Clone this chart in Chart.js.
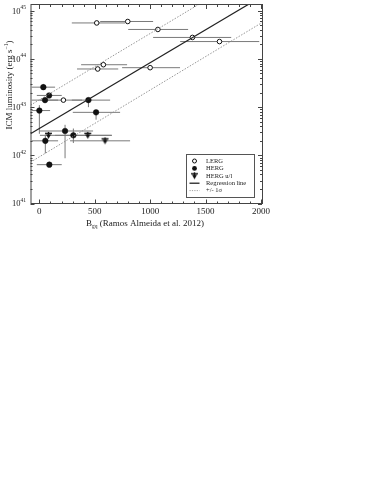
<!DOCTYPE html>
<html>
<head>
<meta charset="utf-8">
<script src="https://cdn.jsdelivr.net/npm/chart.js@4/dist/chart.umd.min.js"></script>
<style>
  body { margin: 0; background: #fff; }
  #wrap { width: 382px; height: 494px; }
</style>
</head>
<body>
<div id="wrap"><canvas id="chart" width="382" height="494"></canvas></div>
<script>
// LERG (open circles)
const lergB   = [518, 798, 1070, 1382, 1626, 578, 527, 1000, 217];
const lergL   = [5.6e44, 6.0e44, 4.1e44, 2.8e44, 2.3e44, 7.6e43, 6.2e43, 6.6e43, 1.4e43];
const lergBLo = [293, 549, 802, 1027, 1271, 377, 340, 747, 6];
const lergBHi = [774, 1027, 1343, 1732, 1985, 792, 712, 1270, 386];

// HERG (filled circles)
const hergB   = [36, 88, 51, 443, 0, 512, 232, 307, 54, 90];
const hergL   = [2.6e43, 1.75e43, 1.4e43, 1.4e43, 8.5e42, 7.8e42, 3.2e42, 2.6e42, 2.0e42, 6.4e41];
const hergBLo = [-69, -23, -69, 293, -69, 302, 6, 142, -69, -23];
const hergBHi = [142, 202, 169, 639, 97, 729, 485, 654, 169, 202];
const hergLLo = [2.4e43, null, null, 1.0e43, 2.8e42, 5.5e42, 8.7e41, 1.8e42, 1.1e42, null];
const hergLHi = [3.0e43, null, null, 1.5e43, 1.1e43, 8.5e42, 4.3e42, 3.6e42, 2.7e42, null];

// HERG upper limits
const ulB   = [82, 437, 593];
const ulL   = [2.6e42, 2.6e42, 2.0e42];
const ulBLo = [5, 187, 277];
const ulBHi = [187, 654, 819];

// regression line and +/- 1 sigma (end points)
const lineB  = [-80, 2010];
const regL   = [2.8e42, 2.0e45];
const upL    = [1.1e43, 8.3e45];
const lowL   = [7.2e41, 5.7e44];

const xTicks = [0, 500, 1000, 1500, 2000];
const yExps  = [41, 42, 43, 44, 45];

const SERIF = '"Liberation Serif", "DejaVu Serif", serif';

function pts(xs, ys) { return xs.map((x, i) => ({ x: x, y: ys[i] })); }

// marker for upper limits
const ulMarker = document.createElement('canvas');
ulMarker.width = 9; ulMarker.height = 9;
(function() {
    const c = ulMarker.getContext('2d');
    c.fillStyle = '#111'; c.strokeStyle = '#111'; c.lineWidth = 1.4;
    c.beginPath(); c.moveTo(1, 2.5); c.lineTo(8, 2.5); c.stroke();
    c.beginPath(); c.moveTo(2, 3.5); c.lineTo(7, 3.5); c.lineTo(4.5, 8); c.closePath(); c.fill();
    c.beginPath(); c.moveTo(4.5, 1); c.lineTo(4.5, 4); c.stroke();
})();

const errorBars = {
    id: 'errorBars',
    beforeDatasetsDraw(chart) {
        const ctx = chart.ctx, xs = chart.scales.x, ys = chart.scales.y;
        ctx.save();
        ctx.strokeStyle = '#7a7a7a';
        ctx.lineWidth = 1;
        function hbar(b, l, lo, hi) {
            const y = ys.getPixelForValue(l);
            ctx.beginPath();
            ctx.moveTo(Math.max(xs.getPixelForValue(lo), chart.chartArea.left), y);
            ctx.lineTo(xs.getPixelForValue(hi), y);
            ctx.stroke();
        }
        lergB.forEach((b, i) => hbar(b, lergL[i], lergBLo[i], lergBHi[i]));
        ulB.forEach((b, i) => hbar(b, ulL[i], ulBLo[i], ulBHi[i]));
        hergB.forEach((b, i) => {
            hbar(b, hergL[i], hergBLo[i], hergBHi[i]);
            if (hergLLo[i] !== null) {
                const x = xs.getPixelForValue(b);
                ctx.beginPath();
                ctx.moveTo(x, ys.getPixelForValue(hergLLo[i]));
                ctx.lineTo(x, ys.getPixelForValue(hergLHi[i]));
                ctx.stroke();
            }
        });
        ctx.restore();
    }
};

const frame = {
    id: 'frame',
    afterDraw(chart) {
        const ctx = chart.ctx, a = chart.chartArea, xs = chart.scales.x, ys = chart.scales.y;
        ctx.save();
        ctx.strokeStyle = '#444';
        ctx.lineWidth = 1;
        ctx.strokeRect(a.left + 0.5, a.top - 0.5, a.right - a.left, a.bottom - a.top + 0.5);

        // x ticks, inward, bottom and top
        ctx.beginPath();
        for (let v = 0; v <= 2000; v += 100) {
            const x = Math.round(xs.getPixelForValue(v)) + 0.5;
            const len = v % 500 === 0 ? 4 : 2;
            ctx.moveTo(x, a.bottom); ctx.lineTo(x, a.bottom - len);
            ctx.moveTo(x, a.top); ctx.lineTo(x, a.top + len);
        }
        // y ticks, inward, left and right
        for (let e = 41; e <= 45; e++) {
            for (let m = 1; m <= 9; m++) {
                const v = m * Math.pow(10, e);
                if (v > ys.max) continue;
                const y = Math.round(ys.getPixelForValue(v)) + 0.5;
                const len = m === 1 ? 4 : 2;
                ctx.moveTo(a.left, y); ctx.lineTo(a.left + len, y);
                ctx.moveTo(a.right, y); ctx.lineTo(a.right - len, y);
            }
        }
        ctx.stroke();

        // tick labels
        ctx.fillStyle = '#222';
        ctx.textBaseline = 'middle';
        ctx.textAlign = 'center';
        ctx.font = '9px ' + SERIF;
        xTicks.forEach(v => ctx.fillText(String(v), xs.getPixelForValue(v), a.bottom + 8.5));
        yExps.forEach(e => {
            const y = ys.getPixelForValue(Math.pow(10, e));
            ctx.textAlign = 'right';
            ctx.font = '8.5px ' + SERIF;
            ctx.fillText('10', a.left - 10, y + 0.5);
            ctx.textAlign = 'left';
            ctx.font = '5.5px ' + SERIF;
            ctx.fillText(String(e), a.left - 10, y - 3);
        });

        // axis titles
        ctx.font = '9px ' + SERIF;
        ctx.textAlign = 'left';
        const t1 = 'B', t2 = 'gq', t3 = ' (Ramos Almeida et al. 2012)';
        ctx.font = '9px ' + SERIF;
        const w1 = ctx.measureText(t1).width, w3 = ctx.measureText(t3).width;
        ctx.font = '5.5px ' + SERIF;
        const w2 = ctx.measureText(t2).width;
        let x0 = 145 - (w1 + w2 + w3) / 2;
        const ty = 224;
        ctx.font = '9px ' + SERIF; ctx.fillText(t1, x0, ty);
        ctx.font = '5.5px ' + SERIF; ctx.fillText(t2, x0 + w1, ty + 3);
        ctx.font = '9px ' + SERIF; ctx.fillText(t3, x0 + w1 + w2, ty);

        ctx.translate(10, 85);
        ctx.rotate(-Math.PI / 2);
        ctx.textAlign = 'center';
        ctx.font = '9px ' + SERIF;
        const s1 = 'ICM luminosity (erg s', s2 = '\u22121', s3 = ')';
        const m1 = ctx.measureText(s1).width, m3 = ctx.measureText(s3).width;
        ctx.font = '5.5px ' + SERIF;
        const m2 = ctx.measureText(s2).width;
        const sx = -(m1 + m2 + m3) / 2;
        ctx.textAlign = 'left';
        ctx.font = '9px ' + SERIF; ctx.fillText(s1, sx, 0);
        ctx.font = '5.5px ' + SERIF; ctx.fillText(s2, sx + m1, -3);
        ctx.font = '9px ' + SERIF; ctx.fillText(s3, sx + m1 + m2, 0);
        ctx.restore();

        // legend
        ctx.save();
        ctx.fillStyle = '#fff';
        ctx.fillRect(186, 154, 68, 43);
        ctx.strokeStyle = '#555';
        ctx.lineWidth = 1;
        ctx.strokeRect(186.5, 154.5, 68, 43);
        const items = ['LERG', 'HERG', 'HERG u/l', 'Regression line', '+/- 1\u03c3'];
        const sxm = 194.5, txl = 206;
        ctx.font = '6.5px ' + SERIF;
        ctx.textBaseline = 'middle';
        ctx.textAlign = 'left';
        items.forEach((t, i) => {
            const y = 161 + i * 7.4;
            ctx.fillStyle = '#222';
            ctx.fillText(t, txl, y);
            ctx.strokeStyle = '#111';
            if (i === 0) {
                ctx.fillStyle = '#fff'; ctx.lineWidth = 1;
                ctx.beginPath(); ctx.arc(sxm, y, 2, 0, Math.PI * 2); ctx.fill(); ctx.stroke();
            } else if (i === 1) {
                ctx.fillStyle = '#111';
                ctx.beginPath(); ctx.arc(sxm, y, 2.4, 0, Math.PI * 2); ctx.fill();
            } else if (i === 2) {
                ctx.drawImage(ulMarker, sxm - 4.5, y - 4.5);
            } else if (i === 3) {
                ctx.lineWidth = 1.2;
                ctx.beginPath(); ctx.moveTo(sxm - 5, y); ctx.lineTo(sxm + 5, y); ctx.stroke();
            } else {
                ctx.strokeStyle = '#888'; ctx.lineWidth = 0.8; ctx.setLineDash([1.2, 1.2]);
                ctx.beginPath(); ctx.moveTo(sxm - 5, y); ctx.lineTo(sxm + 5, y); ctx.stroke();
                ctx.setLineDash([]);
            }
        });
        ctx.restore();
    }
};

new Chart(document.getElementById('chart').getContext('2d'), {
    type: 'scatter',
    data: {
        datasets: [
            { type: 'line', data: pts(lineB, upL), borderColor: '#8a8a8a', borderWidth: 0.9, borderDash: [1.5, 1.5], pointRadius: 0, showLine: true },
            { type: 'line', data: pts(lineB, lowL), borderColor: '#8a8a8a', borderWidth: 0.9, borderDash: [1.5, 1.5], pointRadius: 0, showLine: true },
            { type: 'line', data: pts(lineB, regL), borderColor: '#222', borderWidth: 1.2, pointRadius: 0, showLine: true },
            { data: pts(lergB, lergL), pointRadius: 2.3, pointBorderWidth: 1, borderColor: '#111', backgroundColor: '#fff' },
            { data: pts(hergB, hergL), pointRadius: 2.8, pointBorderWidth: 0.5, borderColor: '#111', backgroundColor: '#111' },
            { data: pts(ulB, ulL), pointStyle: ulMarker, pointRadius: 4 }
        ]
    },
    options: {
        responsive: false,
        animation: false,
        layout: { padding: { left: 0, top: 0, right: 120, bottom: 259 } },
        plugins: { legend: { display: false }, tooltip: { enabled: false } },
        scales: {
            x: {
                type: 'linear', min: -80, max: 2010,
                grid: { display: false }, border: { display: false },
                ticks: { display: false },
                afterFit(s) { s.height = 31.5; s.paddingLeft = 0; s.paddingRight = 0; }
            },
            y: {
                type: 'logarithmic', min: 1e41, max: 1.32e45,
                grid: { display: false }, border: { display: false },
                ticks: { display: false },
                afterFit(s) { s.width = 30.5; s.paddingTop = 0; s.paddingBottom = 0; }
            }
        }
    },
    plugins: [errorBars, frame]
});
</script>
</body>
</html>
